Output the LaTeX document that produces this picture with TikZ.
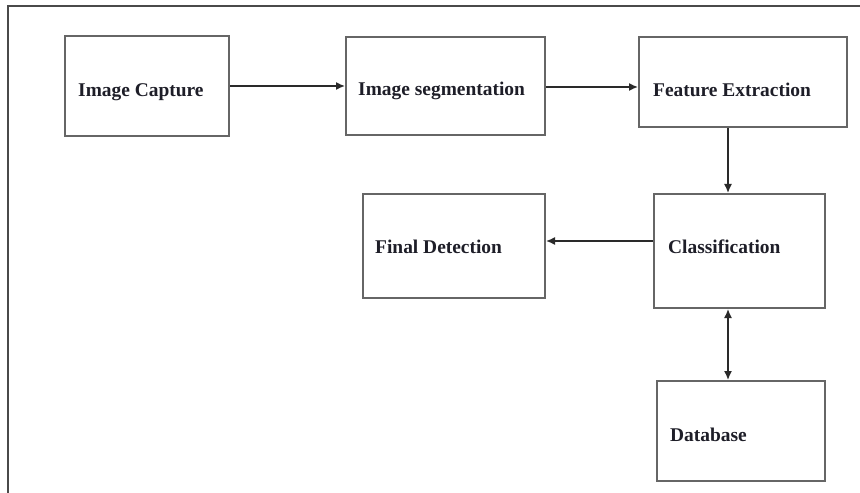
\documentclass[tikz,border=0pt]{standalone}
\usepackage{fontspec}
\setmainfont{Liberation Serif}
\usetikzlibrary{arrows.meta}
\definecolor{framec}{HTML}{4A4A4A}
\definecolor{boxc}{HTML}{666666}
\definecolor{txtc}{HTML}{1E1E28}
\definecolor{arrc}{HTML}{2A2A2A}
\tikzset{
  box/.style={draw=boxc, line width=2bp, fill=white, inner sep=0pt},
  lbl/.style={anchor=base west, inner sep=0pt, text=txtc, font=\fontsize{19.5}{22}\selectfont\bfseries},
  arr/.style={draw=arrc, line width=1.5bp, -{Latex[length=9bp,width=8bp]}},
  darr/.style={draw=arrc, line width=1.5bp, {Latex[length=9bp,width=8bp]}-{Latex[length=9bp,width=8bp]}}
}
\begin{document}
\begin{tikzpicture}[x=1bp,y=-1bp]
\useasboundingbox (0,0) rectangle (860,493);
\fill[white] (0,0) rectangle (860,493);
% outer frame (only left and top edges are visible)
\draw[framec, line width=2bp] (8,493) -- (8,6) -- (860,6);
% boxes
\node[box, minimum width=164bp, minimum height=100bp] (cap) at (147,86) {};
\node[box, minimum width=199bp, minimum height=98bp] (seg) at (445.5,86) {};
\node[box, minimum width=208bp, minimum height=90bp] (feat) at (743,82) {};
\node[box, minimum width=182bp, minimum height=104bp] (fin) at (454,246) {};
\node[box, minimum width=171bp, minimum height=114bp] (cls) at (739.5,251) {};
\node[box, minimum width=168bp, minimum height=100bp] (db) at (741,431) {};
% labels
\node[lbl] (capt) at (78,97) {Image Capture};
\node[lbl] (segt) at (358,96) {Image segmentation};
\node[lbl] (featt) at (653,97) {Feature Extraction};
\node[lbl] (fint) at (375,254) {Final Detection};
\node[lbl] (clst) at (668,254) {Classification};
\node[lbl] (dbt) at (670,441) {Database};
% connectors
\draw[arr] (cap.east) -- (cap.east -| seg.west);
\draw[arr] ([yshift=-1bp]seg.east) -- ([yshift=-1bp]seg.east -| feat.west);
\draw[arr] ([xshift=-15bp]feat.south) -- ([xshift=-15bp]feat.south |- cls.north);
\draw[arr] ([yshift=10bp]cls.west) -- ([yshift=10bp]cls.west -| fin.east);
\draw[darr] ([xshift=-11.5bp]cls.south) -- ([xshift=-11.5bp]cls.south |- db.north);
\end{tikzpicture}
\end{document}
